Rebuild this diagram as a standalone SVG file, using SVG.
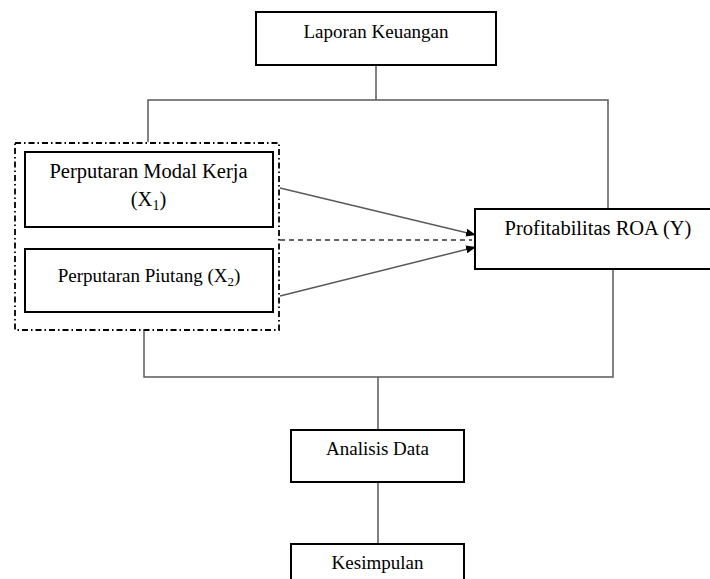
<svg xmlns="http://www.w3.org/2000/svg" width="710" height="579" viewBox="0 0 710 579">
<style>
.box{fill:#fff;stroke:#000;stroke-width:2}
.ln{fill:none;stroke:#595959;stroke-width:1.5}
.t{font-family:"Liberation Serif","Times New Roman",serif;font-size:19px;fill:#000;text-anchor:middle}
.big{font-size:20.5px}
</style>
<defs>
<marker id="ah" viewBox="0 0 10 8" refX="10" refY="4" markerWidth="10" markerHeight="8" markerUnits="userSpaceOnUse" orient="auto">
<path d="M0,0 L10,4 L0,8 Z" fill="#000"/>
</marker>
</defs>
<g id="connectors">
<path class="ln" d="M376,65 V100"/>
<path class="ln" d="M148,142 V100 H608 V209"/>
<path class="ln" d="M144,330 V377 H613 V269"/>
<path class="ln" d="M378,377 V430"/>
<path class="ln" d="M378,482 V544"/>
<path class="ln" d="M280,188 L476,235" marker-end="url(#ah)"/>
<path class="ln" d="M280,296 L476,247" marker-end="url(#ah)"/>
<path d="M280,240 H472" fill="none" stroke="#333" stroke-width="1.3" stroke-dasharray="5 4"/>
</g>
<g id="group-x">
<rect x="15" y="143" width="264" height="187" fill="none" stroke="#000" stroke-width="1.8" stroke-dasharray="6 3 1.5 3"/>
</g>
<g id="laporan">
<rect class="box" x="256" y="12" width="240" height="53"/>
<text class="t" x="376" y="38">Laporan Keuangan</text>
</g>
<g id="x1">
<rect class="box" x="25" y="152" width="248" height="75"/>
<text class="t big" x="148.5" y="178">Perputaran Modal Kerja</text>
<text class="t big" x="148.5" y="206">(X<tspan font-size="14" dy="4">1</tspan><tspan dy="-4">)</tspan></text>
</g>
<g id="x2">
<rect class="box" x="25" y="249" width="248" height="63"/>
<text class="t" x="149" y="282">Perputaran Piutang (X<tspan font-size="13" dy="4">2</tspan><tspan dy="-4">)</tspan></text>
</g>
<g id="roa">
<rect class="box" x="475" y="209" width="240" height="60"/>
<text class="t big" x="598" y="235">Profitabilitas ROA (Y)</text>
</g>
<g id="analisis">
<rect class="box" x="291" y="430" width="173" height="52"/>
<text class="t" x="377.5" y="455">Analisis Data</text>
</g>
<g id="kesimpulan">
<rect class="box" x="291" y="544" width="173" height="45"/>
<text class="t" x="377.5" y="569">Kesimpulan</text>
</g>
</svg>
